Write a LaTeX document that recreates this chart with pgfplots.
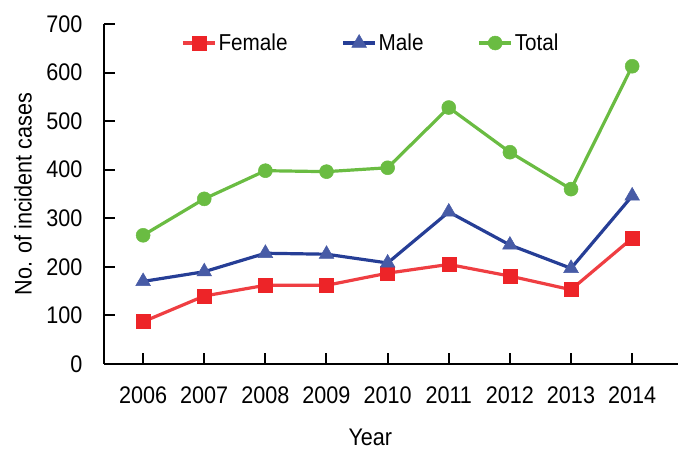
\documentclass[border=0pt]{standalone}
\usepackage{fontspec}
\setmainfont[FakeStretch=0.9]{Liberation Sans}
\usepackage{pgfplots}
\pgfplotsset{compat=1.18}
\definecolor{cfem}{RGB}{237,36,40}
\definecolor{cmale}{RGB}{38,62,150}
\definecolor{ctot}{RGB}{106,188,66}
\begin{document}
\begin{tikzpicture}[x=1bp,y=1bp]
\path[use as bounding box] (-104,-90) rectangle (580,364);
\begin{axis}[
  at={(0,0)}, anchor=origin,
  scale only axis, width=574bp, height=340bp,
  xmin=2005.36, xmax=2014.75, ymin=0, ymax=700,
  axis lines=left, axis line style={line width=2.6bp,-},
  every tick/.style={black,line width=2bp},
  tick align=inside, major tick length=11bp,
  xtick={2006,...,2014}, ytick={0,100,...,700},
  xticklabel style={/pgf/number format/1000 sep={}, anchor=center, yshift=-31bp},
  /pgf/number format/assume math mode=true,
  yticklabel style={anchor=east, xshift=-18bp},
  tick label style={font=\fontsize{24bp}{26bp}\selectfont},
  label style={font=\fontsize{24bp}{26bp}\selectfont},
  xlabel={Year}, ylabel={No. of incident cases},
  xlabel style={at={(axis description cs:0.464,0)}, anchor=center, yshift=-73bp},
  ylabel style={at={(axis description cs:0,0.5)}, anchor=center, yshift=81bp},
  legend style={draw=none, fill=none, at={(0.465,0.944)}, anchor=center,
    legend columns=-1, font=\fontsize{23bp}{26bp}\selectfont,
    /tikz/every even column/.append style={column sep=52bp}},
  legend image code/.code={
    \draw[#1, mark repeat=2, mark phase=2] plot coordinates {(0bp,0bp) (16bp,0bp) (32bp,0bp)};},
  every axis plot/.append style={line width=3.2bp},
  clip=false,
]
\addplot[cfem!88!white, mark=square*, mark size=7bp, mark options={fill=cfem, draw=cfem, line width=0.5bp}] coordinates {
(2006,87) (2007,140) (2008,162) (2009,162) (2010,187) (2011,205) (2012,181) (2013,153) (2014,259)};
\addlegendentry{Female}
\addplot[cmale, mark=triangle*, mark size=8.5bp, mark options={fill=cmale!85!white, draw=cmale!85!white, line width=0.5bp}] coordinates {
(2006,170) (2007,190) (2008,228) (2009,226) (2010,208) (2011,313) (2012,245) (2013,197) (2014,346)};
\addlegendentry{Male}
\addplot[ctot, mark=*, mark size=7bp, mark options={fill=ctot, draw=ctot, line width=0.5bp}] coordinates {
(2006,265) (2007,340) (2008,398) (2009,396) (2010,404) (2011,528) (2012,436) (2013,360) (2014,613)};
\addlegendentry{Total}
\end{axis}
\end{tikzpicture}
\end{document}
